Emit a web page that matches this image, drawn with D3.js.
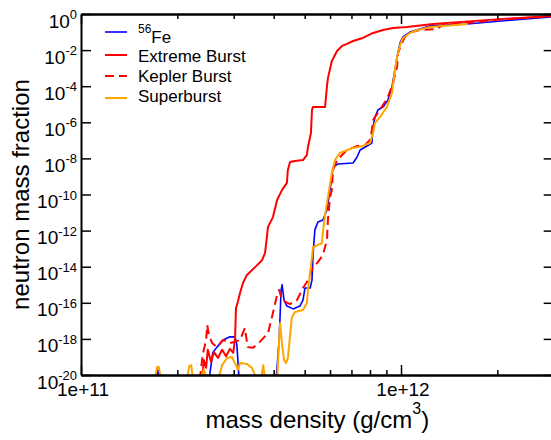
<!DOCTYPE html>
<html>
<head>
<meta charset="utf-8">
<script src="https://cdn.jsdelivr.net/npm/d3@7"></script>
<style>
  body { margin: 0; background: #fff; }
  svg text { font-family: "Liberation Sans", Arial, Helvetica, sans-serif; fill: #000; }
</style>
</head>
<body>
<div id="chart"></div>
<script>
// density (g/cm^3), neutron mass fraction
const fe56 = [
  [1.72e11, 5.2e-21], [1.74e11, 2.1e-20], [1.77e11, 5.2e-21],
  [2.51e11, 5.2e-21], [2.55e11, 3.5e-20], [2.58e11, 1.7e-19], [2.66e11, 3.5e-19],
  [2.78e11, 8.7e-19], [2.92e11, 1.3e-18], [3.03e11, 1.3e-18], [3.07e11, 4.6e-19],
  [3.12e11, 5.2e-21], [4.07e11, 5.2e-21], [4.16e11, 8.7e-19], [4.22e11, 5.1e-16],
  [4.25e11, 9.8e-16], [4.31e11, 1.4e-16], [4.40e11, 6.6e-17], [4.60e11, 4.6e-17],
  [4.83e11, 6.6e-17], [4.94e11, 1.4e-16], [5.01e11, 6.6e-16], [5.20e11, 6.6e-16],
  [5.27e11, 1.8e-15], [5.31e11, 4.5e-14], [5.38e11, 1.1e-12], [5.50e11, 3.0e-12],
  [5.70e11, 3.9e-12], [5.87e11, 1.4e-11], [6.00e11, 1.8e-10], [6.08e11, 9.3e-10],
  [6.13e11, 3.3e-9], [6.35e11, 4.9e-9], [7.08e11, 5.6e-9], [7.29e11, 1.2e-8],
  [7.45e11, 2.9e-8], [7.83e11, 4.9e-8], [8.11e11, 7.1e-8], [8.18e11, 5.5e-7],
  [8.29e11, 1.95e-6], [8.47e11, 4.8e-6], [8.79e11, 7.1e-6], [9.10e11, 1.7e-5],
  [9.37e11, 9.1e-5], [9.57e11, 7.9e-4], [9.72e11, 4.2e-3], [9.93e11, 2.5e-2],
  [1.014e12, 5.4e-2], [1.066e12, 0.10], [1.146e12, 0.148], [1.233e12, 0.22],
  [1.607e12, 0.28], [1.897e12, 0.36], [2.35e12, 0.50], [2.94e12, 0.68]
];

const extremeBurst = [
  [2.39e11, 5.2e-21], [2.42e11, 6.8e-20], [2.46e11, 2.5e-20], [2.49e11, 2.5e-19],
  [2.55e11, 5.2e-20], [2.60e11, 1.9e-19], [2.68e11, 8.7e-20], [2.76e11, 2.5e-19],
  [2.84e11, 1.1e-19], [2.92e11, 2.8e-19], [2.99e11, 1.7e-19], [3.03e11, 1.1e-18],
  [3.05e11, 5.1e-17], [3.09e11, 1.1e-16], [3.14e11, 3.5e-16], [3.21e11, 1.3e-15],
  [3.30e11, 3.5e-15], [3.50e11, 9.5e-15], [3.68e11, 2.3e-14], [3.76e11, 5.8e-14],
  [3.81e11, 4.5e-13], [3.84e11, 1.6e-12], [3.98e11, 5.6e-12], [4.10e11, 5.0e-11],
  [4.25e11, 1.8e-10], [4.40e11, 4.4e-10], [4.43e11, 2.3e-9], [4.50e11, 6.3e-9],
  [4.66e11, 7.2e-9], [4.94e11, 8.1e-9], [5.08e11, 1.55e-8], [5.12e11, 4.3e-8],
  [5.23e11, 2.6e-7], [5.27e11, 4.8e-6], [5.31e11, 7.1e-6], [5.79e11, 7.1e-6],
  [5.87e11, 1.0e-4], [5.91e11, 2.8e-4], [6.08e11, 2.5e-3], [6.31e11, 8.9e-3],
  [6.54e11, 1.7e-2], [6.78e11, 2.2e-2], [7.08e11, 3.2e-2], [7.60e11, 4.7e-2],
  [8.18e11, 8.9e-2], [8.79e11, 0.13], [9.44e11, 0.166], [1.044e12, 0.19],
  [1.259e12, 0.28], [2.04e12, 0.52], [2.94e12, 0.78]
];

const keplerBurst = [
  [2.35e11, 5.2e-21], [2.40e11, 1.3e-19], [2.46e11, 8.7e-19], [2.48e11, 5.9e-18],
  [2.51e11, 1.7e-18], [2.57e11, 5.9e-19], [2.66e11, 3.5e-19], [2.78e11, 8.7e-19],
  [2.92e11, 5.9e-19], [3.01e11, 6.8e-19], [3.14e11, 8.7e-19], [3.25e11, 4.0e-18],
  [3.32e11, 3.5e-19], [3.45e11, 3.2e-19], [3.62e11, 6.8e-19], [3.84e11, 2.1e-18],
  [3.95e11, 1.6e-17], [4.10e11, 2.7e-16], [4.16e11, 5.1e-16], [4.25e11, 1.4e-16],
  [4.50e11, 8.5e-17], [4.73e11, 1.4e-16], [4.94e11, 6.6e-16], [5.12e11, 1.8e-15],
  [5.31e11, 9.5e-15], [5.50e11, 1.8e-14], [5.70e11, 4.5e-14], [5.87e11, 3.0e-13],
  [5.91e11, 3.9e-12], [6.00e11, 7.2e-11], [6.08e11, 1.8e-10], [6.13e11, 2.3e-9],
  [6.31e11, 8.1e-9], [6.78e11, 2.9e-8], [7.29e11, 4.9e-8], [7.72e11, 5.5e-8],
  [8.00e11, 1.05e-7], [8.11e11, 3.7e-7], [8.18e11, 1.35e-6], [8.59e11, 4.8e-6],
  [9.10e11, 2.5e-5], [9.44e11, 1.5e-4], [9.72e11, 1.15e-3], [9.79e11, 6.9e-3],
  [1.007e12, 2.5e-2], [1.029e12, 5.4e-2], [1.082e12, 0.10], [1.146e12, 0.13],
  [1.296e12, 0.148], [1.352e12, 0.245], [1.607e12, 0.32], [2.04e12, 0.50],
  [2.94e12, 0.73]
];

const superburst = [
  [1.70e11, 5.2e-21], [1.73e11, 2.8e-20], [1.75e11, 2.8e-20], [1.78e11, 5.2e-21],
  [2.14e11, 5.2e-21], [2.18e11, 3.2e-20], [2.21e11, 3.5e-20], [2.24e11, 5.2e-21],
  [2.37e11, 5.2e-21], [2.42e11, 2.1e-20], [2.48e11, 5.2e-21], [2.68e11, 5.2e-21],
  [2.76e11, 3.5e-20], [2.86e11, 8.7e-20], [2.96e11, 1.0e-19], [3.05e11, 3.5e-20],
  [3.09e11, 1.9e-20], [3.14e11, 4.6e-20], [3.30e11, 4.1e-20], [3.42e11, 2.5e-20],
  [3.55e11, 5.2e-21], [3.65e11, 5.2e-21], [3.71e11, 3.5e-20], [3.76e11, 5.2e-21],
  [4.10e11, 5.2e-21], [4.16e11, 8.7e-19], [4.19e11, 7.6e-18], [4.25e11, 4.6e-19],
  [4.31e11, 6.8e-20], [4.37e11, 4.6e-20], [4.43e11, 8.7e-20], [4.56e11, 1.6e-17],
  [4.66e11, 3.1e-17], [4.94e11, 4.0e-17], [5.08e11, 9.8e-17], [5.12e11, 5.1e-16],
  [5.20e11, 4.5e-15], [5.27e11, 3.5e-14], [5.31e11, 1.2e-13], [5.50e11, 1.6e-13],
  [5.66e11, 2.0e-13], [5.70e11, 8.3e-13], [5.79e11, 7.2e-12], [5.91e11, 7.2e-11],
  [6.08e11, 1.55e-9], [6.22e11, 8.1e-9], [6.44e11, 2.0e-8], [6.78e11, 2.9e-8],
  [7.08e11, 3.8e-8], [7.60e11, 4.9e-8], [8.00e11, 7.1e-8], [8.18e11, 2.6e-7],
  [8.29e11, 9.1e-7], [8.59e11, 1.95e-6], [9.04e11, 7.1e-6], [9.37e11, 4.2e-5],
  [9.57e11, 7.9e-4], [9.72e11, 4.2e-3], [9.93e11, 1.9e-2], [1.014e12, 4.7e-2],
  [1.066e12, 8.9e-2], [1.130e12, 0.13], [1.233e12, 0.19], [1.619e12, 0.28]
];

const seriesNames = ["Fe", "Extreme Burst", "Kepler Burst", "Superburst"];
const seriesColors = ["#0000ff", "#ff0000", "#ff0000", "#ffa500"];

const rhoMajor = [1e11, 1e12];
const rhoMajorLabels = ["1e+11", "1e+12"];
const rhoMinor = [2e11, 3e11, 4e11, 5e11, 6e11, 7e11, 8e11, 9e11, 2e12, 3e12];
const fracTicks = [1, 1e-2, 1e-4, 1e-6, 1e-8, 1e-10, 1e-12, 1e-14, 1e-16, 1e-18, 1e-20];
const fracExponents = ["0", "-2", "-4", "-6", "-8", "-10", "-12", "-14", "-16", "-18", "-20"];

const width = 551, height = 440;
const plotLeft = 81, plotRight = 553.7, plotTop = 14, plotBottom = 375;

const svg = d3.select("#chart").append("svg")
  .attr("width", width).attr("height", height);

svg.append("rect").attr("width", width).attr("height", height).attr("fill", "#fff");

const x = d3.scaleLog().domain([1e11, 3e12]).range([plotLeft, plotRight]);
const y = d3.scaleLog().domain([1e-20, 1]).range([plotBottom, plotTop]);

svg.append("defs").append("clipPath").attr("id", "plotclip")
  .append("rect").attr("x", plotLeft).attr("y", plotTop)
  .attr("width", plotRight - plotLeft).attr("height", plotBottom - plotTop);

// data lines
const line = d3.line().x(d => x(d[0])).y(d => y(d[1]));
const series = [fe56, extremeBurst, keplerBurst, superburst];
const widths = [1.6, 2, 2, 2];
const dashes = [null, null, "9,5", null];

const plot = svg.append("g").attr("clip-path", "url(#plotclip)");
series.forEach((s, i) => {
  plot.append("path")
    .attr("d", line(s))
    .attr("fill", "none")
    .attr("stroke", seriesColors[i])
    .attr("stroke-width", widths[i])
    .attr("stroke-dasharray", dashes[i])
    .attr("stroke-linejoin", "round");
});

// axes, ticks pointing inward
function styleAxis(g) {
  g.selectAll(".domain").attr("stroke", "#000").attr("stroke-width", 2);
  g.selectAll(".tick line").attr("stroke", "#000").attr("stroke-width", 1.5);
  g.selectAll(".tick text").remove();
}

svg.append("g").attr("transform", `translate(0,${plotBottom})`)
  .call(d3.axisBottom(x).tickValues(rhoMajor).tickSize(-10).tickSizeOuter(0)).call(styleAxis);
svg.append("g").attr("transform", `translate(0,${plotBottom})`)
  .call(d3.axisBottom(x).tickValues(rhoMinor).tickSize(-5).tickSizeOuter(0)).call(styleAxis);
svg.append("g").attr("transform", `translate(0,${plotTop})`)
  .call(d3.axisTop(x).tickValues(rhoMajor).tickSize(-10).tickSizeOuter(0)).call(styleAxis);
svg.append("g").attr("transform", `translate(0,${plotTop})`)
  .call(d3.axisTop(x).tickValues(rhoMinor).tickSize(-5).tickSizeOuter(0)).call(styleAxis);
svg.append("g").attr("transform", `translate(${plotLeft},0)`)
  .call(d3.axisLeft(y).tickValues(fracTicks).tickSize(-10).tickSizeOuter(0)).call(styleAxis);
svg.append("g").attr("transform", `translate(${plotRight},0)`)
  .call(d3.axisRight(y).tickValues(fracTicks).tickSize(-10).tickSizeOuter(0)).call(styleAxis);

// x tick labels
svg.selectAll(".xlab").data(rhoMajor).enter().append("text")
  .attr("x", d => x(d) + 2).attr("y", plotBottom + 21)
  .attr("text-anchor", "middle").attr("font-size", 19)
  .text((d, i) => rhoMajorLabels[i]);

// y tick labels 10^n
fracTicks.forEach((d, i) => {
  const t = svg.append("text")
    .attr("x", 77).attr("y", y(d) + 13.5)
    .attr("text-anchor", "end").attr("font-size", 19);
  t.append("tspan").text("10");
  t.append("tspan").attr("font-size", 13).attr("dy", -8.5).text(fracExponents[i]);
});

// axis titles
const xt = svg.append("text").attr("x", (plotLeft + plotRight) / 2).attr("y", 428)
  .attr("text-anchor", "middle").attr("font-size", 24);
xt.append("tspan").text("mass density (g/cm");
xt.append("tspan").attr("font-size", 16).attr("dy", -14).text("3");
xt.append("tspan").attr("dy", 14).text(")");

svg.append("text")
  .attr("transform", `translate(29,${(plotTop + plotBottom) / 2}) rotate(-90)`)
  .attr("text-anchor", "middle").attr("font-size", 24)
  .text("neutron mass fraction");

// legend
const legLineY = [32, 55, 76, 98];
const legTextY = [42.5, 61.5, 81.5, 101.5];
series.forEach((s, i) => {
  svg.append("line")
    .attr("x1", 105).attr("x2", 127).attr("y1", legLineY[i]).attr("y2", legLineY[i])
    .attr("stroke", seriesColors[i]).attr("stroke-width", widths[i])
    .attr("stroke-dasharray", dashes[i]);
  const t = svg.append("text").attr("x", 138).attr("y", legTextY[i]).attr("font-size", 17);
  if (i === 0) {
    t.append("tspan").attr("font-size", 12).attr("dy", -10).text("56");
    t.append("tspan").attr("dy", 10).text(seriesNames[i]);
  } else {
    t.text(seriesNames[i]);
  }
});
</script>
</body>
</html>
